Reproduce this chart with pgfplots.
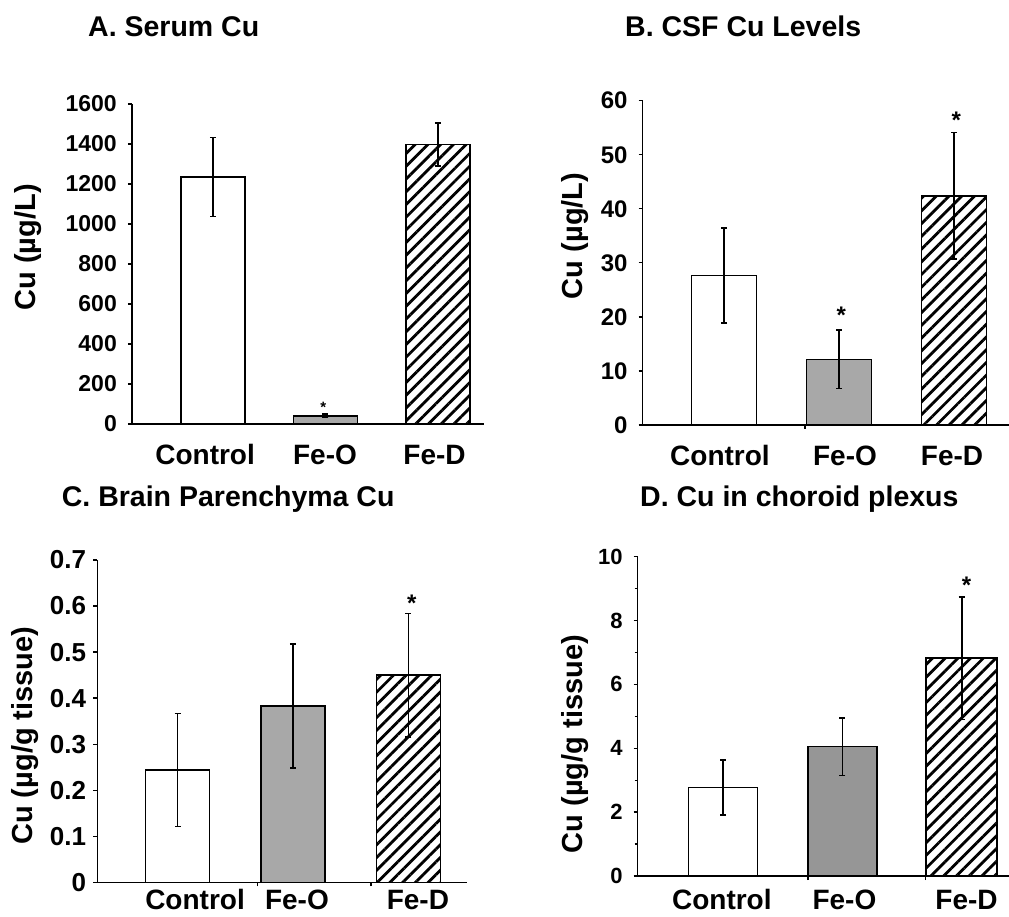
\documentclass[border=0pt]{standalone}
\usepackage{fontspec}
\setmainfont{Liberation Sans}
\usepackage{pgfplots}
\pgfplotsset{compat=1.18}
\usetikzlibrary{patterns.meta}
\definecolor{grayO}{HTML}{A8A8A8}
\definecolor{grayD}{HTML}{969696}
\newcommand{\CatFont}{\fontsize{28}{32}\selectfont\bfseries}
\newcommand{\StarFont}{\fontsize{24}{28}\selectfont\bfseries}

\pgfplotsset{
  cuaxis/.style={
    scale only axis, anchor=south west, clip=false,
    axis x line*=bottom, axis y line*=left,
    axis line style={black, line width=1.4pt},
    tick style={black, line width=1.3pt}, tick align=outside,
    major tick length=4pt, minor tick length=3pt,
    xtick style={draw=none},
    extra x tick labels={}, extra x tick style={xtick style={draw=black}},
    ymin=0, scaled y ticks=false,
    /pgf/number format/assume math mode=true, /pgf/number format/1000 sep={},
    yticklabel style={font=\fontsize{23}{27}\selectfont\bfseries, anchor=east, inner sep=0pt, xshift=-11pt},
    xticklabel style={font=\CatFont, anchor=base, inner sep=0pt, yshift=-37pt},
    ylabel style={font=\fontsize{29}{33}\selectfont\bfseries, anchor=center},
    xticklabels={Control,Fe-O,Fe-D},
  },
  cubar/.style={ybar, bar shift=0pt, draw=black, line width=1.5pt,
    error bars/y dir=both, error bars/y explicit,
    error bars/error bar style={black, line width=1.6pt},
    error bars/error mark=-,
    error bars/error mark options={rotate=90, black, mark size=3pt, line width=1.6pt}},
  hatch/.style={pattern={Lines[angle=45, distance=9pt, line width=2.8pt]}},
}
\tikzset{paneltitle/.style={anchor=base west, inner sep=0pt, font=\fontsize{28.5}{32}\selectfont\bfseries}}

\begin{document}
\begin{tikzpicture}
\useasboundingbox (0pt,0pt) rectangle (1009pt,916pt);

% A. serum
\begin{axis}[cuaxis, at={(132pt,492pt)}, width=352pt, height=320pt,
  xmin=-0.72, xmax=2.41, ymax=1600, ytick={0,200,...,1600},
  xtick={-0.07,0.996,1.97},
  ylabel={Cu (µg/L)}, ylabel style={at={(axis description cs:-0.295,0.552)}}]
\addplot[cubar, bar width=64pt, fill=white] coordinates {(0,1235) +- (0,198)};
\addplot[cubar, bar width=64pt, fill=grayO] coordinates {(1,41) +- (0,8)};
\addplot[cubar, bar width=64pt, hatch] coordinates {(2,1397) +- (0,107)};
\node[font=\fontsize{15}{18}\selectfont\bfseries] at (axis cs:0.98,85) {*};
\end{axis}

% B. CSF
\begin{axis}[cuaxis, at={(642.7pt,491pt)}, width=366.3pt, height=324.3pt,
  xmin=-0.707, xmax=2.478, ymax=60, ytick={0,10,...,60},
  yticklabel style={font=\fontsize{24}{28}\selectfont\bfseries},
  xtick={-0.035,1.052,1.983}, extra x ticks={0.704},
  ylabel={Cu (µg/L)}, ylabel style={at={(axis description cs:-0.185,0.583)}}]
\addplot[cubar, bar width=65pt, fill=white] coordinates {(0,27.7) +- (0,8.8)};
\addplot[cubar, bar width=65pt, fill=grayO] coordinates {(1,12.15) +- (0,5.4)};
\addplot[cubar, bar width=65pt, hatch] coordinates {(2,42.4) +- (0,11.7)};
\node[font=\StarFont] at (axis cs:1.02,20.3) {*};
\node[font=\StarFont] at (axis cs:2.02,56.3) {*};
\end{axis}

% C. brain parenchyma
\begin{axis}[cuaxis, at={(97.3pt,33.7pt)}, width=369.4pt, height=322.3pt,
  xmin=-0.695, xmax=2.506, ymax=0.7, ytick={0,0.1,0.2,0.3,0.4,0.5,0.6,0.7},
  yticklabel style={font=\fontsize{26}{30}\selectfont\bfseries, xshift=4pt},
  xtick={0.152,1.035,2.083}, extra x ticks={0.695,1.677},
  xticklabel style={yshift=14pt},
  ylabel={Cu (µg/g tissue)}, ylabel style={at={(axis description cs:-0.195,0.455)}}]
\addplot[cubar, bar width=64pt, fill=white] coordinates {(0,0.244) +- (0,0.123)};
\addplot[cubar, bar width=64pt, fill=grayO] coordinates {(1,0.383) +- (0,0.135)};
\addplot[cubar, bar width=64pt, hatch] coordinates {(2,0.450) +- (0,0.134)};
\node[font=\StarFont] at (axis cs:2.03,0.607) {*};
\end{axis}

% D. choroid plexus
\begin{axis}[cuaxis, at={(637.7pt,40pt)}, width=371.3pt, height=319.3pt,
  xmin=-0.715, xmax=2.396, ymax=10, ytick={0,2,...,10}, minor y tick num=1,
  yticklabel style={font=\fontsize{22}{26}\selectfont\bfseries},
  xtick={-0.01,1.017,2.04}, extra x ticks={0.712,1.698},
  xticklabel style={yshift=8pt},
  ylabel={Cu (µg/g tissue)}, ylabel style={at={(axis description cs:-0.169,0.413)}}]
\addplot[cubar, bar width=69pt, fill=white] coordinates {(0,2.77) +- (0,0.86)};
\addplot[cubar, bar width=69pt, fill=grayD] coordinates {(1,4.05) +- (0,0.90)};
\addplot[cubar, bar width=71pt, hatch] coordinates {(2,6.82) +- (0,1.92)};
\node[font=\StarFont] at (axis cs:2.04,9.12) {*};
\end{axis}

\node[paneltitle] at (88pt,879.3pt) {A. Serum Cu};
\node[paneltitle] at (625pt,879.3pt) {B. CSF Cu Levels};
\node[paneltitle] at (61.7pt,409.3pt) {C. Brain Parenchyma Cu};
\node[paneltitle] at (640pt,409.3pt) {D. Cu in choroid plexus};
\end{tikzpicture}
\end{document}
